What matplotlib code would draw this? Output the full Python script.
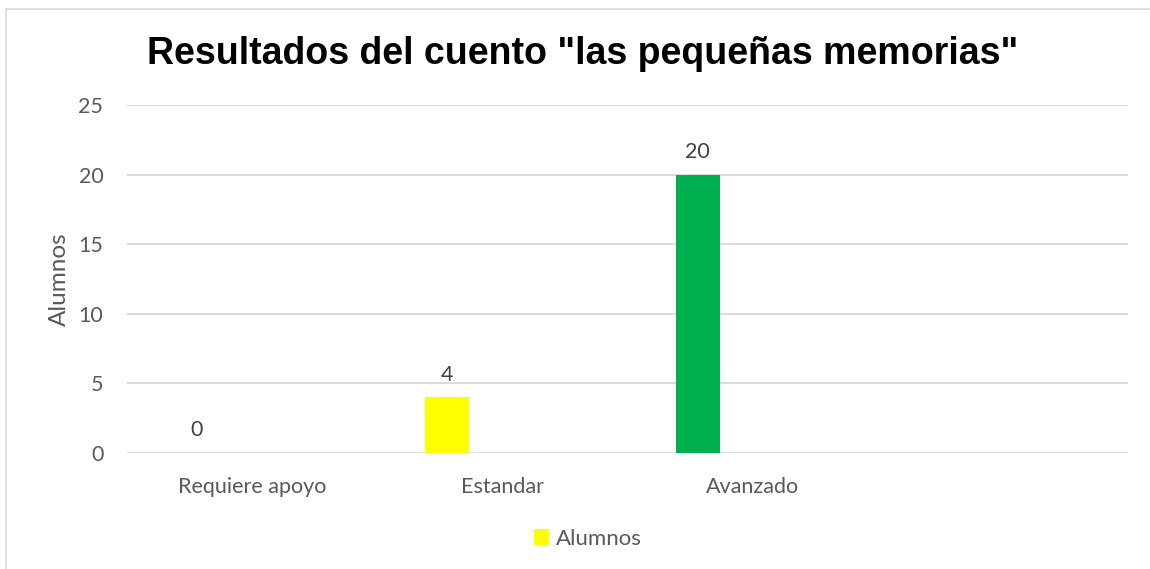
import matplotlib.pyplot as plt
import numpy as np
from matplotlib.patches import Rectangle

# Datos del gráfico
categorias = ["Requiere apoyo", "Estandar", "Avanzado", ""]
alumnos = [0, 4, 20, np.nan]
colores = ["#FFFF00", "#FFFF00", "#00B050", "#FFFF00"]
serie = "Alumnos"

TEXTO = "#595959"
REJILLA = "#D9D9D9"

fig = plt.figure(figsize=(11.5, 5.69), dpi=100)
ax = fig.add_axes([0.1104, 0.2039, 0.8706, 0.6116])

x = np.arange(len(categorias))
barras = ax.bar(x - 0.22, alumnos, width=0.176, color=colores, label=serie, zorder=3)

for xi, v in zip(x, alumnos):
    if np.isnan(v):
        continue
    ax.annotate(f"{v:g}", (xi - 0.22, v), xytext=(0, 9), textcoords="offset points",
                ha="center", va="bottom", fontsize=15.5, color="#404040", family="Lato")

ax.set_xlim(-0.5, len(categorias) - 0.5)
ax.set_ylim(0, 25)
ax.set_yticks(range(0, 26, 5))
ax.set_xticks(x)
ax.set_xticklabels(categorias)
ax.grid(axis="y", color=REJILLA, linewidth=1.3, zorder=0)
for s in ax.spines.values():
    s.set_visible(False)
ax.tick_params(axis="both", length=0, labelsize=15.5, colors=TEXTO)
ax.tick_params(axis="x", pad=17)
ax.tick_params(axis="y", pad=17)
for lab in ax.get_xticklabels() + ax.get_yticklabels():
    lab.set_family("Lato")

ax.set_ylabel("Alumnos", fontsize=17.5, color=TEXTO, family="Lato", labelpad=6)

fig.text(0.507, 0.905, 'Resultados del cuento "las pequeñas memorias"',
         ha="center", va="center", fontsize=27, fontweight="bold",
         family="Liberation Sans", color="black")

leg = fig.legend(handles=[barras[1]], labels=[serie], loc="center",
                 bbox_to_anchor=(0.511, 0.053), frameon=False, fontsize=16,
                 handlelength=0.7, handleheight=0.7, handletextpad=0.3)
for t in leg.get_texts():
    t.set_color(TEXTO)
    t.set_family("Lato")

# Borde del área del gráfico
fig.patches.append(Rectangle((6 / 1150, -0.1), 1.2, 1 - 9 / 569 + 0.1,
                             transform=fig.transFigure, fill=False,
                             edgecolor="#D9D9D9", linewidth=1.2))

fig.savefig("out.png", dpi=100)
